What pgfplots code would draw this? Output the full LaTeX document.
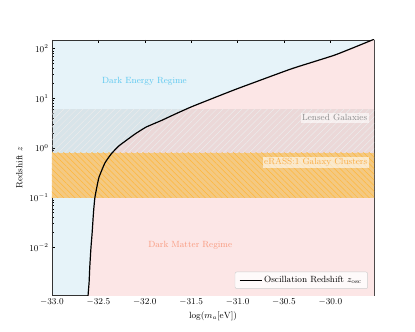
\documentclass[border=0pt]{standalone}
\usepackage{pgfplots}
\pgfplotsset{compat=1.18}
\usetikzlibrary{patterns.meta}
\definecolor{debg}{HTML}{E6F3F9}
\definecolor{dmbg}{HTML}{FCE6E6}
\definecolor{detxt}{HTML}{5BC8F0}
\definecolor{dmtxt}{HTML}{F99A7E}
\definecolor{erfill}{HTML}{F4C982}
\definecolor{erhatch}{HTML}{FFB73A}
\definecolor{ertxt}{HTML}{F9AC45}
\definecolor{lgtxt}{HTML}{8C8C8C}
\begin{document}
\begin{tikzpicture}
\begin{axis}[
  name=ax,
  scale only axis,
  width=322bp, height=255bp,
  xmin=-33.0, xmax=-29.53,
  ymode=log, ymin=0.0011, ymax=150,
  xtick={-33,-32.5,-32,-31.5,-31,-30.5,-30},
  xticklabel style={/pgf/number format/fixed,/pgf/number format/fixed zerofill,/pgf/number format/precision=1},
  ytick={0.01,0.1,1,10,100},
  tick align=inside,
  major tick length=3.5bp,
  minor tick length=2bp,
  tick style={black, line width=0.5pt},
  ticklabel style={font=\small},
  label style={font=\small},
  xlabel={$\log(m_a[\mathrm{eV}])$},
  ylabel={Redshift $z$},
  axis background/.style={fill=debg},
  axis line style={black!80, line width=0.6pt},
  legend style={at={(rel axis cs:0.981,0.024)}, anchor=south east, font=\small,
    draw=black!20, rounded corners=2pt, fill=white, fill opacity=0.8, text opacity=1,
    inner xsep=4pt, inner ysep=2.5pt},
  legend image code/.code={\draw[#1] (0bp,0bp) -- (22bp,0bp);},
  legend cell align=left,
  clip=true,
]
% Dark matter region (right of curve)
\addplot[draw=none, fill=dmbg, forget plot] coordinates {
(-32.618,0.0005) (-32.611,0.0011) (-32.600,0.002) (-32.593,0.004) (-32.580,0.01)
(-32.568,0.019) (-32.553,0.05) (-32.539,0.097) (-32.515,0.17) (-32.493,0.26)
(-32.43,0.5) (-32.36,0.77) (-32.28,1.1) (-32.199,1.43) (-32.10,1.95)
(-31.985,2.65) (-31.82,3.6) (-31.663,4.93) (-31.503,6.7) (-31.27,10)
(-31.03,15) (-30.85,20) (-30.41,40) (-29.95,75) (-29.56,147) (-29.45,180)
(-29.45,0.0005)
} -- cycle;
% Lensed galaxies band
\addplot[draw=none, fill=gray, fill opacity=0.13, forget plot] coordinates {
(-33.1,0.8) (-29.4,0.8) (-29.4,6) (-33.1,6)} -- cycle;
\addplot[draw=none, pattern={Lines[angle=45,distance=4.5bp,line width=0.5pt]}, pattern color=white!85!gray, forget plot] coordinates {
(-33.1,0.8) (-29.4,0.8) (-29.4,6) (-33.1,6)} -- cycle;
% eRASS band
\addplot[draw=none, fill=erfill, forget plot] coordinates {
(-33.1,0.1) (-29.4,0.1) (-29.4,0.8) (-33.1,0.8)} -- cycle;
\addplot[draw=none, pattern={Lines[angle=-45,distance=4bp,line width=0.5pt]}, pattern color=erhatch, forget plot] coordinates {
(-33.1,0.1) (-29.4,0.1) (-29.4,0.8) (-33.1,0.8)} -- cycle;
% Curve
\addplot[black, line width=1.2pt, smooth, tension=0.3] coordinates {
(-32.618,0.0005) (-32.611,0.0011) (-32.600,0.002) (-32.593,0.004) (-32.580,0.01)
(-32.568,0.019) (-32.553,0.05) (-32.539,0.097) (-32.515,0.17) (-32.493,0.26)
(-32.43,0.5) (-32.36,0.77) (-32.28,1.1) (-32.199,1.43) (-32.10,1.95)
(-31.985,2.65) (-31.82,3.6) (-31.663,4.93) (-31.503,6.7) (-31.27,10)
(-31.03,15) (-30.85,20) (-30.41,40) (-29.95,75) (-29.56,147) (-29.45,180)
};
\addlegendentry{Oscillation Redshift $z_{\mathrm{osc}}$}
\node[font=\small, text=detxt] at (axis cs:-32.003,22.3) {Dark Energy Regime};
\node[font=\small, text=dmtxt] at (axis cs:-31.51,0.0111) {Dark Matter Regime};
\node[font=\small, text=lgtxt, anchor=east, fill=white, fill opacity=0.6, text opacity=1, inner sep=1.5pt] at (axis cs:-29.585,4.07) {Lensed Galaxies};
\node[font=\small, text=ertxt, anchor=east, fill=white, fill opacity=0.6, text opacity=1, inner sep=1.5pt] at (axis cs:-29.585,0.52) {eRASS:1 Galaxy Clusters};
\end{axis}
\path (ax.south west) ++(-52bp,-37bp) rectangle ++(415bp,332bp);
\end{tikzpicture}
\end{document}
